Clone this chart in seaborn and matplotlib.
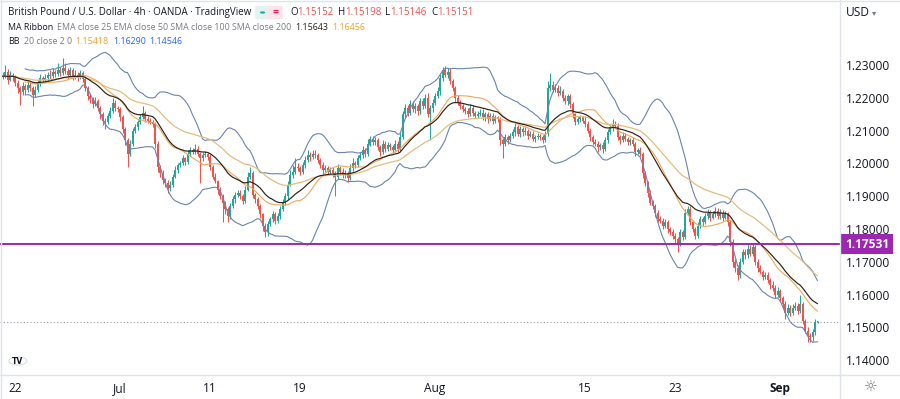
import numpy as np
import pandas as pd
import matplotlib
matplotlib.use("Agg")
import matplotlib.pyplot as plt
import matplotlib.transforms as mtransforms
from matplotlib.lines import Line2D
from matplotlib.patches import Circle, FancyBboxPatch
import seaborn as sns

# ---------------- data (GBP/USD 4h, prices in pips = 1e-4) ----------------
first_day = "2022-06-21"
last_day = "2022-09-05"
first_open_pips = 12270

close_pips = [
    [12265, 12280, 12255, 12270, 12262],                  # Jun 21 (partial)
    [12245, 12230, 12218, 12235, 12225, 12240],           # Jun 22
    [12230, 12210, 12225, 12245, 12260, 12255],           # Jun 23
    [12260, 12270, 12265, 12280, 12272, 12285],           # Jun 24
    [12275, 12290, 12282, 12270, 12285, 12265],           # Jun 27
    [12270, 12262, 12275, 12258, 12230, 12205],           # Jun 28
    [12195, 12180, 12190, 12170, 12150, 12130],           # Jun 29
    [12125, 12145, 12160, 12185, 12170, 12165],           # Jun 30
    [12140, 12105, 12070, 12030, 12060, 12100],           # Jul 1
    [12110, 12125, 12140, 12155, 12135, 12130],           # Jul 4
    [12125, 12120, 12060, 11990, 11970, 11950],           # Jul 5
    [11940, 11925, 11935, 11960, 11980, 11995],           # Jul 6
    [12000, 12015, 12005, 12030, 12040, 12035],           # Jul 7
    [12045, 12030, 12015, 12025, 12030, 12020],           # Jul 8
    [11990, 11960, 11945, 11920, 11900, 11880],           # Jul 11
    [11860, 11840, 11870, 11890, 11905, 11910],           # Jul 12
    [11900, 11885, 11920, 11960, 11970, 11905],           # Jul 13
    [11890, 11870, 11845, 11810, 11790, 11815],           # Jul 14
    [11830, 11845, 11825, 11840, 11860, 11880],           # Jul 15
    [11900, 11935, 11965, 11975, 11990, 11985],           # Jul 18
    [11975, 11995, 12010, 12025, 12020, 12030],           # Jul 19
    [12025, 12010, 11995, 11980, 11985, 11975],           # Jul 20
    [11980, 11970, 11960, 11985, 11975, 11965],           # Jul 21
    [11970, 11955, 11985, 12000, 11995, 12015],           # Jul 22
    [12025, 12040, 12030, 12060, 12075, 12065],           # Jul 25
    [12070, 12050, 12035, 12060, 12045, 12055],           # Jul 26
    [12050, 12040, 12060, 12045, 12080, 12150],           # Jul 27
    [12170, 12155, 12180, 12165, 12175, 12160],           # Jul 28
    [12190, 12175, 12200, 12150, 12170, 12185],           # Jul 29
    [12205, 12220, 12260, 12285, 12270, 12280],           # Aug 1
    [12250, 12230, 12200, 12185, 12175, 12165],           # Aug 2
    [12160, 12150, 12170, 12155, 12145, 12150],           # Aug 3
    [12155, 12140, 12150, 12135, 12145, 12130],           # Aug 4
    [12140, 12135, 12070, 12060, 12080, 12070],           # Aug 5
    [12085, 12095, 12110, 12090, 12105, 12095],           # Aug 8
    [12100, 12085, 12090, 12075, 12080, 12085],           # Aug 9
    [12080, 12070, 12090, 12230, 12240, 12225],           # Aug 10
    [12230, 12215, 12220, 12200, 12190, 12205],           # Aug 11
    [12180, 12150, 12125, 12135, 12140, 12130],           # Aug 12
    [12120, 12100, 12080, 12065, 12060, 12050],           # Aug 15
    [12055, 12045, 12070, 12095, 12110, 12120],           # Aug 16
    [12115, 12080, 12070, 12085, 12075, 12065],           # Aug 17
    [12070, 12060, 12035, 12040, 12030, 11970],           # Aug 18
    [11940, 11910, 11880, 11870, 11850, 11830],           # Aug 19
    [11825, 11810, 11820, 11800, 11790, 11780],           # Aug 22
    [11770, 11755, 11790, 11775, 11850, 11860],           # Aug 23
    [11820, 11800, 11780, 11810, 11830, 11820],           # Aug 24
    [11840, 11850, 11835, 11845, 11855, 11840],           # Aug 25
    [11850, 11835, 11845, 11820, 11760, 11700],           # Aug 26
    [11680, 11660, 11700, 11730, 11720, 11740],           # Aug 29
    [11725, 11745, 11700, 11680, 11670, 11655],           # Aug 30
    [11660, 11645, 11630, 11620, 11600, 11610],           # Aug 31
    [11590, 11570, 11545, 11560, 11545, 11560],           # Sep 1
    [11565, 11550, 11570, 11520, 11490, 11475],           # Sep 2
    [11470, 11485, 11515, 11515],                         # Sep 5 (partial)
]

upper_wick_pips = [
    [10, 20, 8, 12, 6],
    [6, 8, 5, 12, 6, 10], [8, 6, 10, 8, 12, 6], [12, 8, 15, 10, 6, 20],
    [10, 30, 15, 10, 8, 6], [15, 8, 10, 6, 8, 5], [6, 8, 12, 6, 5, 8],
    [8, 10, 12, 15, 8, 6], [6, 8, 5, 6, 10, 8], [10, 8, 12, 20, 6, 8],
    [8, 6, 5, 8, 6, 10], [6, 8, 10, 8, 12, 6], [8, 10, 6, 12, 10, 8],
    [15, 8, 6, 10, 8, 6], [8, 6, 10, 5, 8, 6], [6, 8, 10, 12, 8, 10],
    [8, 6, 10, 15, 20, 8], [6, 8, 6, 5, 8, 10], [8, 10, 6, 8, 10, 12],
    [10, 12, 15, 20, 25, 10], [8, 10, 12, 15, 10, 12], [10, 8, 6, 8, 10, 6],
    [8, 10, 6, 12, 8, 10], [10, 8, 12, 15, 8, 12], [10, 12, 8, 15, 10, 8],
    [12, 8, 6, 10, 8, 10], [8, 6, 10, 8, 12, 10], [10, 8, 12, 10, 8, 6],
    [10, 8, 12, 15, 8, 10], [10, 12, 15, 8, 12, 10], [10, 8, 6, 10, 8, 6],
    [8, 10, 12, 8, 6, 10], [10, 12, 6, 8, 10, 8], [8, 6, 5, 8, 10, 6],
    [8, 10, 12, 8, 10, 6], [10, 6, 8, 10, 6, 8], [6, 8, 10, 20, 36, 10],
    [12, 10, 15, 8, 10, 6], [8, 6, 5, 10, 8, 6], [15, 10, 8, 6, 10, 8],
    [8, 10, 12, 10, 8, 15], [10, 8, 6, 10, 8, 6], [8, 10, 6, 8, 10, 6],
    [8, 6, 10, 8, 6, 8], [10, 8, 12, 8, 6, 10], [8, 6, 10, 8, 12, 10],
    [10, 8, 6, 12, 10, 8], [10, 12, 8, 10, 12, 8], [12, 8, 10, 8, 6, 8],
    [8, 10, 12, 10, 8, 15], [10, 12, 6, 8, 10, 6], [10, 8, 6, 10, 8, 12],
    [8, 6, 10, 12, 8, 10], [12, 10, 30, 8, 6, 10],
    [8, 10, 12, 5],
]

lower_wick_pips = [
    [8, 6, 12, 5, 10],
    [10, 15, 40, 8, 12, 6], [10, 35, 8, 6, 10, 8], [6, 10, 8, 5, 10, 6],
    [8, 6, 10, 12, 6, 10], [8, 10, 6, 10, 8, 12], [10, 12, 6, 10, 15, 12],
    [20, 6, 8, 5, 10, 8], [10, 12, 15, 40, 8, 6], [6, 8, 5, 6, 10, 8],
    [6, 10, 12, 15, 10, 12], [12, 15, 8, 6, 5, 8], [6, 5, 10, 6, 8, 6],
    [6, 8, 75, 8, 6, 10], [10, 8, 6, 12, 10, 60], [15, 20, 8, 6, 10, 8],
    [10, 8, 6, 5, 8, 10], [10, 8, 12, 15, 14, 10], [6, 8, 10, 6, 8, 6],
    [6, 8, 5, 10, 6, 8], [10, 6, 8, 6, 12, 8], [8, 10, 8, 12, 6, 10],
    [6, 10, 60, 8, 10, 8], [8, 12, 6, 8, 10, 6], [6, 8, 10, 6, 8, 10],
    [8, 10, 12, 6, 10, 8], [10, 8, 6, 10, 8, 6], [8, 10, 6, 8, 10, 12],
    [8, 10, 6, 10, 80, 12], [8, 6, 10, 8, 6, 10], [8, 10, 12, 8, 10, 8],
    [10, 8, 6, 10, 8, 6], [6, 8, 10, 12, 6, 10], [6, 10, 15, 45, 8, 10],
    [6, 8, 10, 6, 8, 10], [8, 10, 6, 8, 10, 6], [10, 8, 6, 5, 10, 8],
    [8, 10, 6, 10, 8, 12], [10, 12, 8, 6, 10, 8], [10, 8, 12, 10, 8, 15],
    [10, 12, 6, 8, 6, 10], [8, 10, 12, 6, 8, 10], [10, 8, 12, 6, 8, 15],
    [10, 12, 8, 10, 12, 10], [8, 10, 6, 12, 8, 10], [12, 25, 8, 10, 6, 8],
    [8, 10, 12, 6, 8, 10], [6, 8, 10, 6, 8, 10], [8, 10, 6, 10, 12, 15],
    [10, 15, 8, 6, 10, 8], [8, 6, 10, 12, 8, 10], [8, 10, 12, 8, 10, 6],
    [10, 12, 20, 8, 10, 6], [8, 10, 6, 10, 8, 19],
    [14, 10, 8, 1],
]

tick_dates = ["2022-06-22", "2022-07-01", "2022-07-11", "2022-07-19",
              "2022-08-01", "2022-08-15", "2022-08-23", "2022-09-01"]
tick_labels = ["22", "Jul", "11", "19", "Aug", "15", "23", "Sep"]
price_ticks = [1.14, 1.15, 1.16, 1.17, 1.18, 1.19, 1.20, 1.21, 1.22, 1.23]
support_level = 1.17531
title = "British Pound / U.S. Dollar · 4h · OANDA · TradingView"
ma_label = "EMA close 25 EMA close 50 SMA close 100 SMA close 200"
bb_label = "20 close 2 0"
ma_values = ["1.15643", "1.16456"]
bb_values = ["1.15418", "1.16290", "1.14546"]
ohlc_keys = ["O", "H", "L", "C"]
ohlc_last = ["1.15152", "1.15198", "1.15146", "1.15151"]

# ---------------- build series ----------------
days = pd.bdate_range(first_day, last_day)
day_start = {}
closes, highs_w, lows_w = [], [], []
for d, cl, uw, lw in zip(days, close_pips, upper_wick_pips, lower_wick_pips):
    day_start[d.strftime("%Y-%m-%d")] = len(closes)
    closes += cl
    highs_w += uw
    lows_w += lw
c = np.array(closes, float) / 1e4
o = np.concatenate([[first_open_pips / 1e4], c[:-1]])
hi = np.maximum(o, c) + np.array(highs_w) / 1e4
lo = np.minimum(o, c) - np.array(lows_w) / 1e4
idx = np.arange(len(c))

s = pd.Series(c)
df = pd.DataFrame({
    "i": idx,
    "ema25": s.ewm(span=25, adjust=False).mean(),
    "ema50": s.ewm(span=50, adjust=False).mean(),
    "basis": s.rolling(20, min_periods=10).mean(),
})
sd = s.rolling(20, min_periods=10).std(ddof=0)
df["upper"] = df["basis"] + 2 * sd
df["lower"] = df["basis"] - 2 * sd

# ---------------- style ----------------
sns.set_theme(style="white")
plt.rcParams["font.family"] = ["Open Sans", "DejaVu Sans"]
TXT = "#131722"
GRAY = "#787b86"
UP, DOWN = "#26a69a", "#ef5350"
BAND = "#6a83b0"
EMA25C = "#2e2018"
EMA50C = "#e3bd7e"
BASISC = "#eea85a"
PURPLE = "#9c27b0"
SEP = "#e0e3eb"

W, H = 900, 399
fig = plt.figure(figsize=(W / 100, H / 100), dpi=100)
fig.patch.set_facecolor("white")
ax = fig.add_axes([0, (H - 375) / H, 840 / W, 375 / H])
ax.set_facecolor("white")

# candles
col = np.where(c >= o, UP, DOWN)
ax.vlines(idx, lo, hi, colors=col, lw=0.75, zorder=2)
ax.bar(idx, np.maximum(np.abs(c - o), 0.0003), bottom=np.minimum(o, c),
       width=0.62, color=col, linewidth=0, zorder=3)

# indicators
for key, color, lw in [("upper", BAND, 0.8), ("lower", BAND, 0.8),
                       ("basis", BASISC, 0.8), ("ema50", EMA50C, 0.9),
                       ("ema25", EMA25C, 0.85)]:
    sns.lineplot(data=df, x="i", y=key, ax=ax, color=color, lw=lw,
                 estimator=None, sort=False, zorder=4)

ax.axhline(float(ohlc_last[3]), color="#9598a1", ls=(0, (1, 2)), lw=0.8, zorder=1)
ax.axhline(support_level, color=PURPLE, lw=1.4, zorder=5)

ax.set_xlim(-1, 335)
ax.set_ylim(1.23 - 310 / 3280, 1.23 + 65 / 3280)
for sp in ax.spines.values():
    sp.set_visible(False)
ax.set_xlabel("")
ax.set_ylabel("")

ax.yaxis.tick_right()
ax.set_yticks(price_ticks)
ax.set_yticklabels([f"{p:.5f}" for p in price_ticks])
ax.tick_params(axis="y", length=0, pad=4, labelsize=8.6, labelcolor=TXT)

ax.set_xticks([day_start[d] for d in tick_dates])
ax.set_xticklabels(tick_labels)
ax.tick_params(axis="x", length=0, pad=5, labelsize=8.6, labelcolor=TXT)
for t in ax.get_xticklabels():
    if t.get_text() == "Sep":
        t.set_fontweight("bold")

# price label box
tr = mtransforms.blended_transform_factory(ax.transAxes, ax.transData)
ax.text(1.0 + 5 / 840, support_level, "1.17531", transform=tr, ha="left",
        va="center", color="white", fontsize=8.6, fontweight="bold",
        bbox=dict(boxstyle="square,pad=0.3", fc=PURPLE, ec="none"),
        clip_on=False, zorder=10)

# separators
fig.add_artist(Line2D([840 / W, 840 / W], [0, 1], color=SEP, lw=1))
fig.add_artist(Line2D([0, 1], [(H - 375) / H] * 2, color=SEP, lw=1))
fig.add_artist(Line2D([0, 1], [1 - 0.5 / H] * 2, color=SEP, lw=1))
fig.add_artist(Line2D([1 / W, 1 / W], [0, 1], color=SEP, lw=1))


def fx(px):
    return px / W


def fy(py):
    return 1 - py / H


renderer = fig.canvas.get_renderer()


def seq(x, y, parts, size, gap):
    for txt, color in parts:
        t = fig.text(fx(x), fy(y), txt, color=color, fontsize=size,
                     ha="left", va="center")
        x += t.get_window_extent(renderer=renderer).width + gap
    return x


tsize = 7.0
seq(8, 12.5, [(title, TXT)], tsize, 0)

# status icons
fig.add_artist(FancyBboxPatch((fx(257), fy(18.5)), 11 / W, 12 / H,
                              boxstyle="round,pad=0.002", fc="#e3f3ef", ec="none"))
fig.add_artist(Circle((fx(262.5), fy(12.5)), 2.6 / W, fc=UP, ec="none",
                      transform=fig.transFigure))
fig.add_artist(FancyBboxPatch((fx(270), fy(18.5)), 11 / W, 12 / H,
                              boxstyle="round,pad=0.002", fc="#fce4ec", ec="none"))
fig.text(fx(275.5), fy(12.5), "=", color="#e91e63", fontsize=7.5,
         ha="center", va="center", fontweight="bold")

xo = 290
for k, v in zip(ohlc_keys, ohlc_last):
    xo = seq(xo, 12.5, [(k, TXT), (v, DOWN)], tsize, 0) + 4

msize = 6.4
ma_parts = [("MA Ribbon", TXT), (ma_label, GRAY),
            (ma_values[0], EMA25C), (ma_values[1], "#f0a020")]
seq(8, 27, ma_parts, msize, 4)
bb_parts = [("BB", TXT), (bb_label, GRAY), (bb_values[0], "#f0a020"),
            (bb_values[1], "#2962ff"), (bb_values[2], "#2962ff")]
seq(8, 41.5, bb_parts, msize, 4)

fig.text(fx(846), fy(13), "USD", color=TXT, fontsize=8.6, ha="left", va="center")
fig.text(fx(872), fy(13), "▾", color=GRAY, fontsize=6, ha="left", va="center",
         family="DejaVu Sans")

# TradingView logo and settings icon
fig.add_artist(Circle((fx(18), fy(361)), 9 / W, transform=fig.transFigure,
                      fc="white", ec="#d1d4dc", lw=0.6))
fig.text(fx(18), fy(361), "TV", fontsize=5.5, fontweight="bold", color=TXT,
         ha="center", va="center", family="DejaVu Sans")
fig.text(fx(871), fy(387), "☼", fontsize=11, color=GRAY, ha="center", va="center",
         family="DejaVu Sans")

fig.savefig("out.png", dpi=100, facecolor="white")
